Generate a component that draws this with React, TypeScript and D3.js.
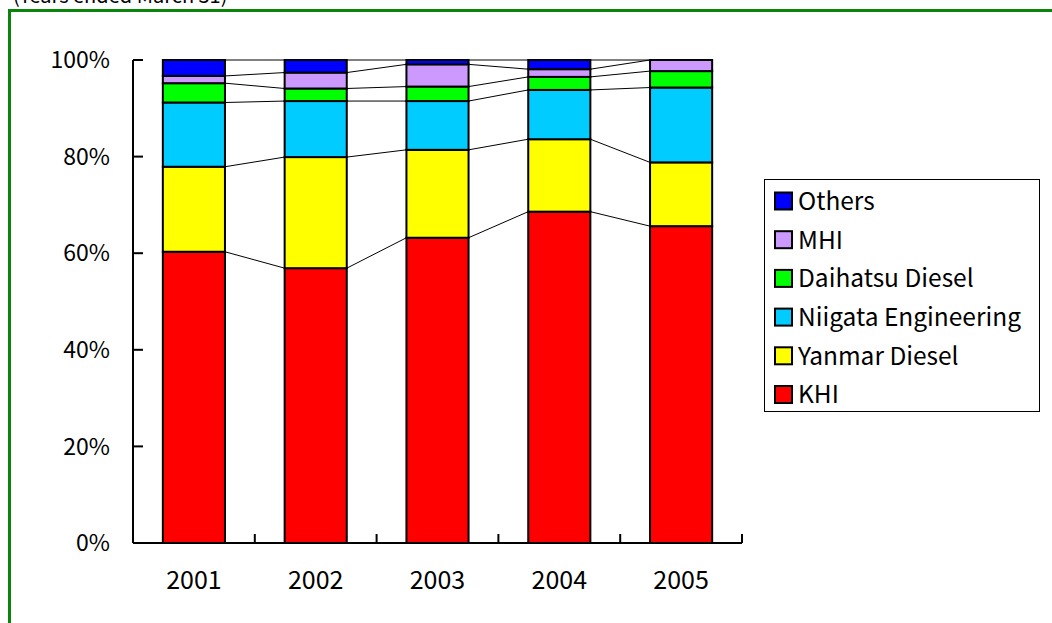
import React from "react";
import * as d3 from "d3";

const years = ["2001", "2002", "2003", "2004", "2005"];
const seriesNames = ["KHI", "Yanmar Diesel", "Niigata Engineering", "Daihatsu Diesel", "MHI", "Others"];
const seriesColors = ["#FF0000", "#FFFF00", "#00CCFF", "#00FF00", "#CC99FF", "#0000FF"];
const khi = [60.3, 56.9, 63.2, 68.6, 65.6];
const yanmar = [17.6, 23.0, 18.2, 15.0, 13.2];
const niigata = [13.3, 11.6, 10.1, 10.2, 15.5];
const daihatsu = [4.0, 2.6, 3.0, 2.7, 3.4];
const mhi = [1.5, 3.3, 4.6, 1.6, 2.3];
const others = [3.3, 2.6, 0.9, 1.9, 0.0];
const yTicks = [0, 20, 40, 60, 80, 100];
const title = "(Years ended March 31)";

const FONT = "'Noto Sans CJK JP', 'Noto Sans', sans-serif";

export default function App() {
  const left = 133, right = 742, top = 60, bottom = 543;
  const x = d3.scaleBand<string>().domain(years).range([left, right]).padding(0);
  const y = d3.scaleLinear().domain([0, 100]).range([bottom, top]);
  const barW = x.bandwidth() * 0.51;

  const table = years.map((yr, i) => ({
    year: yr,
    s0: khi[i], s1: yanmar[i], s2: niigata[i], s3: daihatsu[i], s4: mhi[i], s5: others[i],
  }));
  const keys = ["s0", "s1", "s2", "s3", "s4", "s5"];
  const stacked = d3.stack<any>().keys(keys)(table);

  const barX = (yr: string) => (x(yr) as number) + (x.bandwidth() - barW) / 2;

  const boundaries = years.map((yr) => x(yr) as number).concat([right]);

  return (
    <div style={{ position: "absolute", left: 0, top: 0 }}>
      <svg width={1052} height={623} style={{ display: "block", background: "#fff" }} fontFamily={FONT}>
        <text x={13} y={3} fontSize={20} fill="#000">{title}</text>
        <rect x={9.5} y={10.5} width={1100} height={700} fill="none" stroke="#0A850A" strokeWidth={3} />

        {/* series lines */}
        {stacked.map((layer, si) =>
          years.slice(0, -1).map((yr, i) => (
            <line
              key={`sl-${si}-${i}`}
              x1={barX(yr) + barW}
              x2={barX(years[i + 1])}
              y1={y(layer[i][1])}
              y2={y(layer[i + 1][1])}
              stroke="#000"
              strokeWidth={1}
            />
          ))
        )}

        {/* bars */}
        {stacked.map((layer, si) =>
          layer.map((d, i) => (
            <rect
              key={`b-${si}-${i}`}
              x={barX(years[i])}
              y={y(d[1])}
              width={barW}
              height={Math.max(0, y(d[0]) - y(d[1]))}
              fill={seriesColors[si]}
              stroke="#000"
              strokeWidth={2}
            />
          ))
        )}

        {/* y axis */}
        <line x1={left} x2={left} y1={top} y2={bottom} stroke="#000" strokeWidth={2} />
        {yTicks.map((t) => (
          <g key={`yt-${t}`}>
            <line x1={left} x2={left + 10} y1={y(t)} y2={y(t)} stroke="#000" strokeWidth={2} />
            <text x={110} y={y(t)} dy="0.36em" textAnchor="end" fontSize={23} fill="#000">{`${t}%`}</text>
          </g>
        ))}

        {/* x axis */}
        <line x1={left} x2={right} y1={bottom} y2={bottom} stroke="#000" strokeWidth={2} />
        {boundaries.map((bx, i) => (
          <line key={`xt-${i}`} x1={bx} x2={bx} y1={bottom} y2={bottom - 9} stroke="#000" strokeWidth={2} />
        ))}
        {years.map((yr) => (
          <text key={`xl-${yr}`} x={(x(yr) as number) + x.bandwidth() / 2} y={589} textAnchor="middle" fontSize={25} fill="#000">{yr}</text>
        ))}

        {/* legend */}
        <rect x={764.5} y={179.5} width={275} height={232} fill="#fff" stroke="#000" strokeWidth={1} />
        {seriesNames.slice().reverse().map((name, j) => {
          const si = seriesNames.length - 1 - j;
          const cy = 201 + j * 38.7;
          return (
            <g key={`lg-${name}`}>
              <rect x={775} y={cy - 8.5} width={17} height={17} fill={seriesColors[si]} stroke="#000" strokeWidth={2} />
              <text x={798} y={cy} dy="0.36em" fontSize={24.5} fill="#000">{name}</text>
            </g>
          );
        })}
      </svg>
    </div>
  );
}
